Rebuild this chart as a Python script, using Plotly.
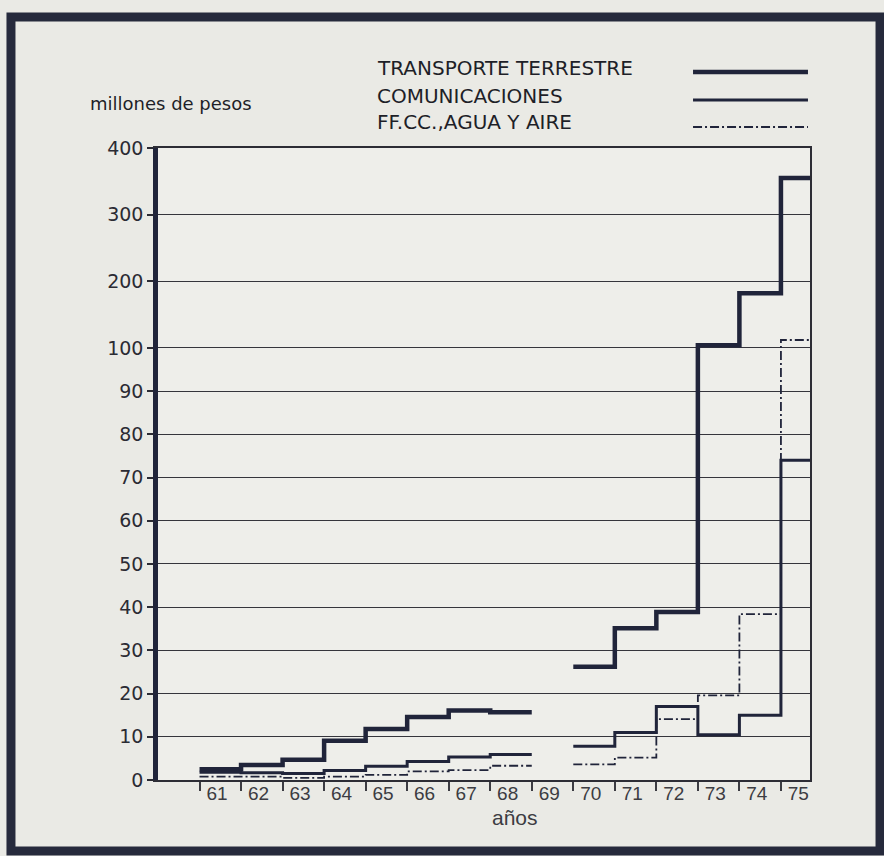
import plotly.graph_objects as go

# ---------------- data ----------------
years_a = [61, 62, 63, 64, 65, 66, 67, 68]
years_b = [70, 71, 72, 73, 74, 75]
year_labels = ["61", "62", "63", "64", "65", "66", "67", "68", "69",
               "70", "71", "72", "73", "74", "75"]
label_years = list(range(61, 76))

transporte_a = [2.5, 3.5, 4.7, 9.1, 11.8, 14.6, 16.1, 15.7]
transporte_b = [26.2, 35.1, 38.9, 104, 182, 355]
comunic_a = [1.8, 1.7, 1.5, 2.2, 3.2, 4.3, 5.3, 5.9]
comunic_b = [7.8, 11.0, 17.0, 10.5, 15.0, 74.0]
ffcc_a = [0.8, 0.8, 0.5, 0.8, 1.2, 2.0, 2.3, 3.3]
ffcc_b = [3.6, 5.2, 14.1, 19.6, 38.4, 112.0]

y_ticks = [0, 10, 20, 30, 40, 50, 60, 70, 80, 90, 100, 200, 300, 400]

series_names = ["TRANSPORTE TERRESTRE", "COMUNICACIONES", "FF.CC.,AGUA Y AIRE"]

# broken scale: linear 0-100, compressed 100-400
K = 0.1543


def f(v):
    return v if v <= 100 else 100 + (v - 100) * K


def steps(ya, va, yb, vb):
    xs, ys = [], []
    for y, v in zip(ya, va):
        xs.append(y); ys.append(f(v))
    xs.append(ya[-1] + 1); ys.append(f(va[-1]))
    xs.append(None); ys.append(None)
    for y, v in zip(yb, vb):
        xs.append(y); ys.append(f(v))
    xs.append(yb[-1] + 1); ys.append(f(vb[-1]))
    return xs, ys


INK = "#20243a"
styles = [dict(width=4.5, color=INK), dict(width=3, color=INK),
          dict(width=1.8, color=INK, dash="9px,3px,2px,3px")]

fig = go.Figure()
for (va, vb), st in zip([(transporte_a, transporte_b), (comunic_a, comunic_b),
                         (ffcc_a, ffcc_b)], styles):
    xs, ys = steps(years_a, va, years_b, vb)
    fig.add_trace(go.Scatter(x=xs, y=ys, mode="lines", line=dict(shape="hv", **st),
                             showlegend=False, hoverinfo="skip", connectgaps=False))

ymax = f(400)
fig.update_layout(
    width=884, height=856,
    margin=dict(l=158, r=74, t=148, b=76),
    paper_bgcolor="#eaeae5", plot_bgcolor="#eeeeea",
    showlegend=False,
    xaxis=dict(range=[60, 75.7], showgrid=False, zeroline=False,
               showline=True, linecolor="#2d2d35", linewidth=1.5, mirror=True,
               tickmode="array", tickvals=[y + 0.42 for y in label_years],
               ticktext=year_labels, ticks="", ticklen=0, ticklabelstandoff=-5,
               tickfont=dict(family="Liberation Sans, Arial", size=19, color="#3c3c42"),
               minor=dict(tickmode="array", tickvals=label_years, ticks="outside",
                          ticklen=9, tickwidth=1.5, tickcolor="#3c3c42", showgrid=False)),
    yaxis=dict(range=[0, ymax], showgrid=True, gridcolor="#35353c", gridwidth=1.3,
               zeroline=False, showline=True, linecolor=INK, linewidth=4.5,
               tickmode="array", tickvals=[f(v) for v in y_ticks],
               ticktext=[str(v) for v in y_ticks], ticks="outside", ticklen=6,
               tickwidth=1.5, tickcolor="#2b2b33",
               tickfont=dict(family="DejaVu Sans", size=19, color="#2b2b33")),
    yaxis2=dict(range=[0, ymax], overlaying="y", side="right", showgrid=False,
                zeroline=False, showline=True, linecolor="#2d2d35", linewidth=1.5,
                showticklabels=False, ticks=""),
)

# right border axis needs a trace to exist
fig.add_trace(go.Scatter(x=[None], y=[None], yaxis="y2", showlegend=False))

# legend text + samples
leg_y = [1.1266, 1.0823, 1.0411]
line_y = [1.1203, 1.0759, 1.0332]
for name, ty, ly, st in zip(series_names, leg_y, line_y, styles):
    fig.add_annotation(xref="paper", yref="paper", x=0.3328, y=ty, text=name,
                       showarrow=False, xanchor="left", yanchor="middle",
                       font=dict(family="DejaVu Sans", size=20, color="#1e1f28"))
    fig.add_shape(type="line", xref="paper", yref="paper", x0=0.8206, x1=0.9969,
                  y0=ly, y1=ly, line=st)

fig.add_annotation(xref="paper", yref="paper", x=-0.1074, y=1.0712,
                   text="millones de pesos", showarrow=False, xanchor="left",
                   yanchor="middle",
                   font=dict(family="DejaVu Sans", size=18, color="#1e1f28"))
fig.add_annotation(xref="paper", yref="paper", x=0.5476, y=-0.06, text="años",
                   showarrow=False, xanchor="center", yanchor="middle",
                   font=dict(family="Liberation Sans, Arial", size=21, color="#3c3c42"))

# photo frame
fig.add_shape(type="rect", xref="paper", yref="paper", x0=-0.2255, x1=1.1074,
              y0=-0.1123, y1=1.2073, line=dict(color="#262a3c", width=9), layer="above")

fig.write_html("out.html", config={"displayModeBar": False},
               post_script="document.body.style.margin='0';document.body.style.overflow='hidden';")
